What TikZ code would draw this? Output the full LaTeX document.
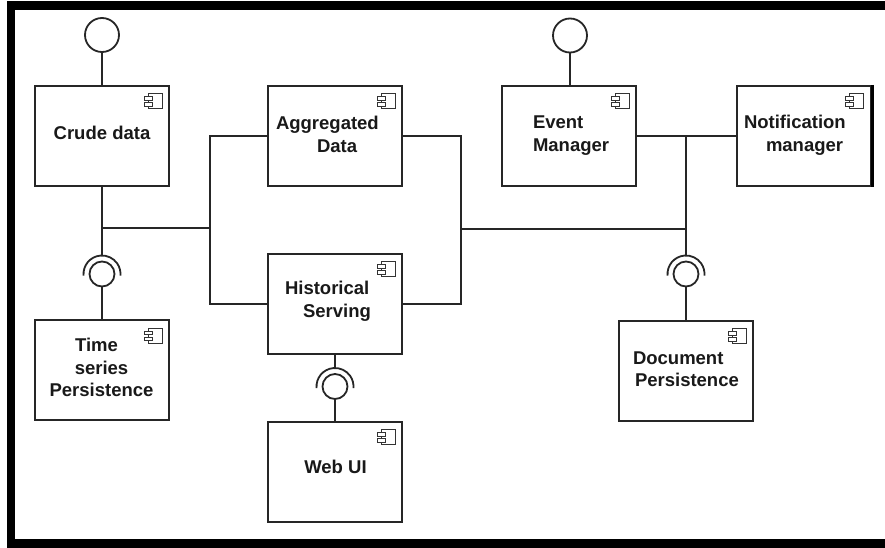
\documentclass[tikz,border=0pt]{standalone}
\usepackage{fontspec}
\setmainfont{Liberation Sans}
\usetikzlibrary{calc}
\begin{document}
\begin{tikzpicture}[x=1pt,y=-1pt,
  line width=2pt,
  color=black!85,
  comp/.style={draw, fill=white, minimum width=134pt, minimum height=100pt,
    inner sep=0pt, line width=2pt},
  lbl/.style={font=\bfseries\fontsize{18.5}{22.5}\selectfont, inner sep=0pt, text=black!90},
  ball/.style={circle, draw, fill=white, inner sep=0pt, minimum size=25pt, line width=1.8pt},
  lolly/.style={circle, draw, fill=white, inner sep=0pt, minimum size=34pt, line width=1.8pt},
  socket/.style={draw, line width=1.8pt},
  icon/.style={draw=black!80, fill=white, line width=1pt}
]
\useasboundingbox (0,0) rectangle (885,548);

% frame bars
\fill[black] (7,1) rectangle (885,10);
\fill[black] (7,1) rectangle (15,548);
\fill[black] (7,539) rectangle (885,548);

% component boxes
\node[comp] (crude) at (102,136) {};
\node[comp] (agg)   at (335,136) {};
\node[comp] (event) at (569,136) {};
\node[comp] (notif) at (803.5,136) {};
\node[comp] (hist)  at (335,303.5) {};
\node[comp] (tsp)   at (102,370) {};
\node[comp] (webui) at (335,471.5) {};
\node[comp] (docp)  at (686,370.5) {};
\draw[line width=2.6pt, black] ($(notif.north east)+(0.8,0)$) -- ($(notif.south east)+(0.8,0)$);

% component icons in the upper right corners
\foreach \n in {crude,agg,event,notif,hist,tsp,webui,docp}{
  \begin{scope}[shift={(\n.north east)}]
    \draw[icon] (-22,9) rectangle (-8,24);
    \draw[icon] (-26,12) rectangle (-18,15.5);
    \draw[icon] (-26,18) rectangle (-18,21.5);
  \end{scope}
}

% labels
\node[lbl] (crudeT) at (102,133) {Crude data};
\node[lbl, align=left, anchor=west] (aggT) at (275,134.5) {Aggregated\\\hspace*{41pt}Data};
\node[lbl, align=left, anchor=west] (eventT) at (532,135.5) {Event\\Manager};
\node[lbl, align=left, anchor=west] (notifT) at (743,135.5) {Notification\\\hspace*{22pt}manager};
\node[lbl, align=left, anchor=west] (histT) at (284,301.5) {Historical\\\hspace*{18pt}Serving};
\node[lbl, align=center] (tspT) at (101.5,367.5) {Time\hspace*{10pt}\\series\\Persistence};
\node[lbl] (webuiT) at (335.5,467) {Web UI};
\node[lbl, align=left, anchor=west] (docpT) at (632,369) {Document\\\hspace*{2pt}Persistence};

% provided interfaces (lollipops)
\node[lolly] (lolC) at (102,35) {};
\node[lolly] (lolE) at (570,35.5) {};
\draw (lolC) -- (crude);
\draw (lolE) -- (lolE |- event.north);

% ball-and-socket joints
\node[ball] (ballTS) at (102,274) {};
\node[ball] (ballDP) at (686,274) {};
\node[ball] (ballW)  at (335,386.5) {};
\foreach \b in {ballTS,ballDP,ballW}{
  \draw[socket] (\b.center) ++(175:18.5) arc[start angle=175, end angle=365, radius=18.5];
}
\coordinate (sockTS) at ($(ballTS.center)+(0,-18.5)$);
\coordinate (sockDP) at ($(ballDP.center)+(0,-18.5)$);
\coordinate (sockW)  at ($(ballW.center)+(0,-18.5)$);
\draw (ballTS) -- (tsp);
\draw (ballDP) -- (docp);
\draw (ballW) -- (webui);
\draw (hist) -- (sockW);
\draw (crude) -- (sockTS);

% left bus
\coordinate (busL) at (210,228);
\draw (agg.west) -| (busL) |- (hist.west);
\draw (busL) -- (crude.south |- busL);

% right bus
\coordinate (busR) at (461,229);
\coordinate (busE) at (686,136);
\draw (agg.east) -| (busR) |- (hist.east);
\draw (event.east) -- (notif.west);
\draw (busE) -- (sockDP);
\draw (busR) -- (busR -| busE);
\end{tikzpicture}
\end{document}
